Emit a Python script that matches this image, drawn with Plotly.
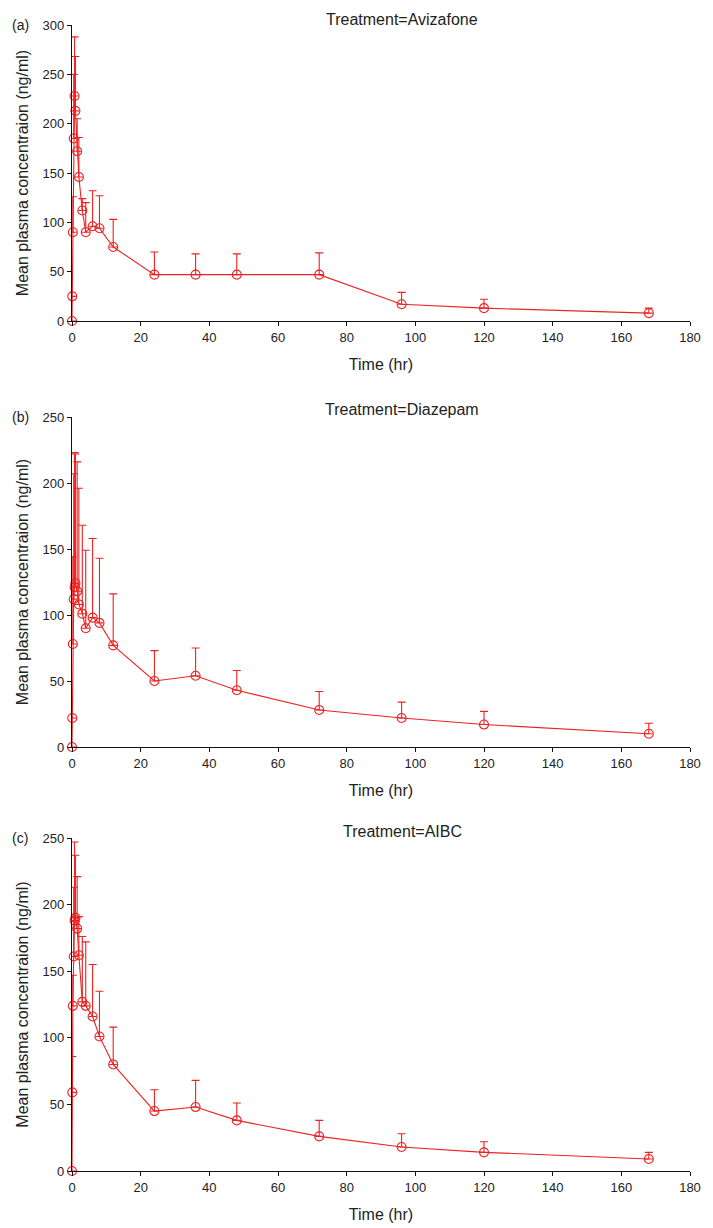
import plotly.graph_objects as go

# ---------------- data ----------------
times = [0, 0.083, 0.25, 0.5, 0.75, 1, 1.5, 2, 3, 4, 6, 8, 12, 24, 36, 48, 72, 96, 120, 168]

avizafone_mean = [0, 25, 90, 185, 228, 213, 172, 146, 112, 90, 96, 94, 75, 47, 47, 47, 47, 17, 13, 8]
avizafone_sd = [None, None, 36, 65, 60, 55, 33, 40, 12, 30, 36, 33, 28, 23, 21, 21, 22, 12, 9, 5]

diazepam_mean = [0, 22, 78, 112, 121, 124, 118, 108, 101, 90, 98, 94, 77, 50, 54, 43, 28, 22, 17, 10]
diazepam_sd = [None, None, 66, 95, 102, 98, 98, 88, 67, 59, 60, 49, 39, 23, 21, 15, 14, 12, 10, 8]

aibc_mean = [0, 59, 124, 161, 188, 190, 182, 162, 127, 124, 116, 101, 80, 45, 48, 38, 26, 18, 14, 9]
aibc_sd = [None, 27, 23, 52, 59, 47, 39, 29, 49, 48, 39, 34, 28, 16, 20, 13, 12, 10, 8, 5]

panel_tags = ["(a)", "(b)", "(c)"]
treatments = ["Treatment=Avizafone", "Treatment=Diazepam", "Treatment=AIBC"]
y_max = [300, 250, 250]
x_ticks = [0, 20, 40, 60, 80, 100, 120, 140, 160, 180]

# ---------------- figure ----------------
W, H = 713, 1228
OFF = 8  # page body margin of the browser
RED = "rgb(236,34,34)"
FONT = "Liberation Sans, Arial, sans-serif"

# plot-area pixel boxes (top, bottom) for each panel, in page pixels
boxes_page = [(25, 321), (417, 747), (838, 1171)]
title_centers_page = [19, 410, 831]
x_left, x_right = 72 - OFF, 690 - OFF

fig = go.Figure()
series = [(avizafone_mean, avizafone_sd), (diazepam_mean, diazepam_sd), (aibc_mean, aibc_sd)]

for i, (mean, sd) in enumerate(series):
    sfx = "" if i == 0 else str(i + 1)
    fig.add_trace(go.Scatter(
        x=times, y=mean, mode="lines+markers",
        line=dict(color=RED, width=1.1),
        marker=dict(symbol="circle-open", size=9, color=RED, line=dict(width=1.1, color=RED)),
        error_y=dict(type="data", symmetric=False, array=sd,
                     arrayminus=[0] * len(sd), color=RED, thickness=1.1, width=4),
        cliponaxis=False, showlegend=False,
        xaxis="x" + sfx, yaxis="y" + sfx,
    ))

layout = dict(
    width=W, height=H,
    margin=dict(l=x_left, r=W - x_right, t=0, b=0),
    paper_bgcolor="white", plot_bgcolor="white",
    font=dict(family=FONT, color="#222"),
    showlegend=False,
)

annotations = []
for i in range(3):
    sfx = "" if i == 0 else str(i + 1)
    top, bot = boxes_page[i][0] - OFF, boxes_page[i][1] - OFF
    layout["xaxis" + sfx] = dict(
        domain=[0, 1], anchor="y" + sfx, range=[0, 180],
        tickvals=x_ticks, ticks="outside", ticklen=4, tickwidth=1, tickcolor="#111",
        showline=True, linecolor="#111", linewidth=1.2,
        showgrid=False, zeroline=False, automargin=False,
        tickfont=dict(size=13, family=FONT, color="#222"),
        title=dict(text="Time (hr)", font=dict(size=16, family=FONT, color="#222"), standoff=15),
    )
    layout["yaxis" + sfx] = dict(
        domain=[1 - bot / H, 1 - top / H], anchor="x" + sfx, range=[0, y_max[i]],
        dtick=50, ticks="outside", ticklen=4, tickwidth=1, tickcolor="#111",
        showline=True, linecolor="#111", linewidth=1.2,
        showgrid=False, zeroline=False, automargin=False,
        tickfont=dict(size=13, family=FONT, color="#222"),
        title=dict(text="Mean plasma concentraion (ng/ml)",
                   font=dict(size=16, family=FONT, color="#222"), standoff=9),
    )
    annotations.append(dict(
        xref="paper", yref="paper", x=(402 - OFF - x_left) / (x_right - x_left),
        y=1 - (title_centers_page[i] - OFF) / H, yanchor="middle", xanchor="center",
        showarrow=False,
        text=treatments[i], font=dict(size=16, family=FONT, color="#222"),
    ))
    annotations.append(dict(
        xref="paper", yref="paper", x=(10 - OFF - x_left) / (x_right - x_left),
        y=1 - top / H, yanchor="middle", xanchor="left", showarrow=False,
        text=panel_tags[i], font=dict(size=14, family=FONT, color="#222"),
    ))

layout["annotations"] = annotations
fig.update_layout(**layout)

fig.write_html("out.html")
